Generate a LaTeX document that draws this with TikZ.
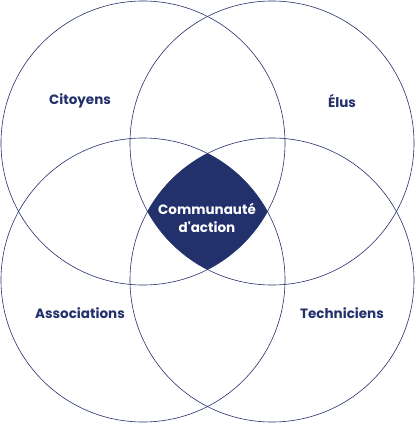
\documentclass[tikz,border=0pt]{standalone}
\usepackage{fontspec}
\setmainfont{Poppins}[Ligatures=NoCommon]
\definecolor{navy}{HTML}{22306B}
\tikzset{
  ring/.style={draw=navy, line width=0.6pt},
  lbl/.style={font=\fontsize{13.5}{16}\selectfont\bfseries, text=navy},
  core/.style={font=\fontsize{13.5}{18}\selectfont\bfseries, text=white, align=center}
}
\begin{document}
\begin{tikzpicture}[x=1pt,y=-1pt]
\useasboundingbox (0,0) rectangle (415,423);
\coordinate (cTL) at (143,143);
\coordinate (cTR) at (272,143);
\coordinate (cBL) at (143,280);
\coordinate (cBR) at (272,280);
% common part of the four circles
\begin{scope}
\clip (cTL) circle (142pt);
\clip (cTR) circle (142pt);
\clip (cBL) circle (142pt);
\fill[navy] (cBR) circle (142pt);
\end{scope}
\draw[ring] (cTL) circle (142pt);
\draw[ring] (cTR) circle (142pt);
\draw[ring] (cBL) circle (142pt);
\draw[ring] (cBR) circle (142pt);
\node[lbl] (citoyens) at (80,101) {Citoyens};
\node[lbl] (elus) at (342,101) {Élus};
\node[lbl] (assoc) at (80,313) {Associations};
\node[lbl] (tech) at (342,313) {Techniciens};
\node[core] (commu) at (207,218) {Communauté\\d\textquotesingle action};
\end{tikzpicture}
\end{document}
